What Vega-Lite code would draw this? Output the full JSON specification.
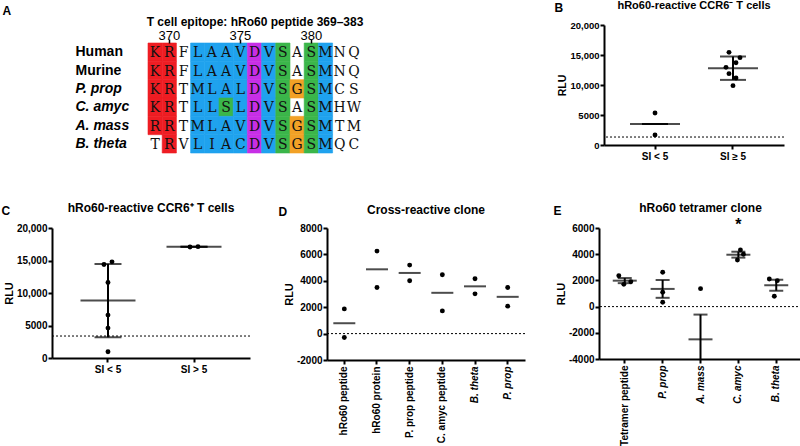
{
  "$schema": "https://vega.github.io/schema/vega-lite/v6.json",
  "padding": {"left": 1, "top": 0, "right": 0, "bottom": 0},
  "background": "white",
  "config": {
    "view": {"stroke": null},
    "font": "Liberation Sans",
    "axis": {"grid": false, "domainColor": "#000", "domainWidth": 2, "tickColor": "#000", "tickWidth": 2, "tickSize": 4, "labelColor": "#000", "labelFont": "Liberation Sans", "labelFontWeight": "bold", "labelFontSize": 10, "labelPadding": 1, "titleColor": "#000", "titleFont": "Liberation Sans", "titleFontWeight": "bold", "titleFontSize": 11, "titlePadding": 2},
    "title": {"font": "Liberation Sans", "fontWeight": "bold", "color": "#000", "frame": "group"},
    "circle": {"color": "#000", "opacity": 1, "size": 24},
    "tick": {"color": "#000", "thickness": 2},
    "rule": {"color": "#000"}
  },
  "datasets": {
    "align": [
      {"s":"Human","p":369,"a":"K","c":"r"},{"s":"Human","p":370,"a":"R","c":"r"},{"s":"Human","p":371,"a":"F","c":"n"},{"s":"Human","p":372,"a":"L","c":"b"},{"s":"Human","p":373,"a":"A","c":"b"},{"s":"Human","p":374,"a":"A","c":"b"},{"s":"Human","p":375,"a":"V","c":"b"},{"s":"Human","p":376,"a":"D","c":"m"},{"s":"Human","p":377,"a":"V","c":"b"},{"s":"Human","p":378,"a":"S","c":"g"},{"s":"Human","p":379,"a":"A","c":"n"},{"s":"Human","p":380,"a":"S","c":"g"},{"s":"Human","p":381,"a":"M","c":"b"},{"s":"Human","p":382,"a":"N","c":"n"},{"s":"Human","p":383,"a":"Q","c":"n"},
      {"s":"Murine","p":369,"a":"K","c":"r"},{"s":"Murine","p":370,"a":"R","c":"r"},{"s":"Murine","p":371,"a":"F","c":"n"},{"s":"Murine","p":372,"a":"L","c":"b"},{"s":"Murine","p":373,"a":"A","c":"b"},{"s":"Murine","p":374,"a":"A","c":"b"},{"s":"Murine","p":375,"a":"V","c":"b"},{"s":"Murine","p":376,"a":"D","c":"m"},{"s":"Murine","p":377,"a":"V","c":"b"},{"s":"Murine","p":378,"a":"S","c":"g"},{"s":"Murine","p":379,"a":"A","c":"n"},{"s":"Murine","p":380,"a":"S","c":"g"},{"s":"Murine","p":381,"a":"M","c":"b"},{"s":"Murine","p":382,"a":"N","c":"n"},{"s":"Murine","p":383,"a":"Q","c":"n"},
      {"s":"P. prop","p":369,"a":"K","c":"r"},{"s":"P. prop","p":370,"a":"R","c":"r"},{"s":"P. prop","p":371,"a":"T","c":"n"},{"s":"P. prop","p":372,"a":"M","c":"b"},{"s":"P. prop","p":373,"a":"L","c":"b"},{"s":"P. prop","p":374,"a":"A","c":"b"},{"s":"P. prop","p":375,"a":"L","c":"b"},{"s":"P. prop","p":376,"a":"D","c":"m"},{"s":"P. prop","p":377,"a":"V","c":"b"},{"s":"P. prop","p":378,"a":"S","c":"g"},{"s":"P. prop","p":379,"a":"G","c":"o"},{"s":"P. prop","p":380,"a":"S","c":"g"},{"s":"P. prop","p":381,"a":"M","c":"b"},{"s":"P. prop","p":382,"a":"C","c":"n"},{"s":"P. prop","p":383,"a":"S","c":"n"},
      {"s":"C. amyc","p":369,"a":"K","c":"r"},{"s":"C. amyc","p":370,"a":"R","c":"r"},{"s":"C. amyc","p":371,"a":"T","c":"n"},{"s":"C. amyc","p":372,"a":"L","c":"b"},{"s":"C. amyc","p":373,"a":"L","c":"b"},{"s":"C. amyc","p":374,"a":"S","c":"g"},{"s":"C. amyc","p":375,"a":"L","c":"b"},{"s":"C. amyc","p":376,"a":"D","c":"m"},{"s":"C. amyc","p":377,"a":"V","c":"b"},{"s":"C. amyc","p":378,"a":"S","c":"g"},{"s":"C. amyc","p":379,"a":"A","c":"n"},{"s":"C. amyc","p":380,"a":"S","c":"g"},{"s":"C. amyc","p":381,"a":"M","c":"b"},{"s":"C. amyc","p":382,"a":"H","c":"n"},{"s":"C. amyc","p":383,"a":"W","c":"n"},
      {"s":"A. mass","p":369,"a":"R","c":"r"},{"s":"A. mass","p":370,"a":"R","c":"r"},{"s":"A. mass","p":371,"a":"T","c":"n"},{"s":"A. mass","p":372,"a":"M","c":"b"},{"s":"A. mass","p":373,"a":"L","c":"b"},{"s":"A. mass","p":374,"a":"A","c":"b"},{"s":"A. mass","p":375,"a":"V","c":"b"},{"s":"A. mass","p":376,"a":"D","c":"m"},{"s":"A. mass","p":377,"a":"V","c":"b"},{"s":"A. mass","p":378,"a":"S","c":"g"},{"s":"A. mass","p":379,"a":"G","c":"o"},{"s":"A. mass","p":380,"a":"S","c":"g"},{"s":"A. mass","p":381,"a":"M","c":"b"},{"s":"A. mass","p":382,"a":"T","c":"n"},{"s":"A. mass","p":383,"a":"M","c":"n"},
      {"s":"B. theta","p":369,"a":"T","c":"n"},{"s":"B. theta","p":370,"a":"R","c":"r"},{"s":"B. theta","p":371,"a":"V","c":"n"},{"s":"B. theta","p":372,"a":"L","c":"b"},{"s":"B. theta","p":373,"a":"I","c":"b"},{"s":"B. theta","p":374,"a":"A","c":"b"},{"s":"B. theta","p":375,"a":"C","c":"b"},{"s":"B. theta","p":376,"a":"D","c":"m"},{"s":"B. theta","p":377,"a":"V","c":"b"},{"s":"B. theta","p":378,"a":"S","c":"g"},{"s":"B. theta","p":379,"a":"G","c":"o"},{"s":"B. theta","p":380,"a":"S","c":"g"},{"s":"B. theta","p":381,"a":"M","c":"b"},{"s":"B. theta","p":382,"a":"Q","c":"n"},{"s":"B. theta","p":383,"a":"C","c":"n"}
    ],
    "pts": [
      {"panel":"B","g":"SI < 5","rlu":5330,"j":0},{"panel":"B","g":"SI < 5","rlu":1670,"j":0},
      {"panel":"B","g":"SI ≥ 5","rlu":15440,"j":-4},{"panel":"B","g":"SI ≥ 5","rlu":14560,"j":7},{"panel":"B","g":"SI ≥ 5","rlu":13720,"j":3},{"panel":"B","g":"SI ≥ 5","rlu":12940,"j":-7},{"panel":"B","g":"SI ≥ 5","rlu":11890,"j":-4},{"panel":"B","g":"SI ≥ 5","rlu":11170,"j":3},{"panel":"B","g":"SI ≥ 5","rlu":9890,"j":0},
      {"panel":"C","g":"SI < 5","rlu":14380,"j":-4},{"panel":"C","g":"SI < 5","rlu":14790,"j":4},{"panel":"C","g":"SI < 5","rlu":11610,"j":0},{"panel":"C","g":"SI < 5","rlu":6600,"j":0},{"panel":"C","g":"SI < 5","rlu":4600,"j":0},{"panel":"C","g":"SI < 5","rlu":970,"j":0},
      {"panel":"C","g":"SI > 5","rlu":17080,"j":-4},{"panel":"C","g":"SI > 5","rlu":17130,"j":4},
      {"panel":"D","g":"hRo60 peptide","rlu":1870,"j":0},{"panel":"D","g":"hRo60 peptide","rlu":-300,"j":0},
      {"panel":"D","g":"hRo60 protein","rlu":6250,"j":0},{"panel":"D","g":"hRo60 protein","rlu":3490,"j":0},
      {"panel":"D","g":"P. prop peptide","rlu":5190,"j":0},{"panel":"D","g":"P. prop peptide","rlu":4000,"j":0},
      {"panel":"D","g":"C. amyc peptide","rlu":4460,"j":0},{"panel":"D","g":"C. amyc peptide","rlu":1720,"j":0},
      {"panel":"D","g":"B. theta","rlu":4150,"j":0},{"panel":"D","g":"B. theta","rlu":3010,"j":0},
      {"panel":"D","g":"P. prop","rlu":3490,"j":0},{"panel":"D","g":"P. prop","rlu":2080,"j":0},
      {"panel":"E","g":"Tetramer peptide","rlu":2350,"j":-6},{"panel":"E","g":"Tetramer peptide","rlu":1700,"j":-1},{"panel":"E","g":"Tetramer peptide","rlu":1900,"j":6},
      {"panel":"E","g":"P. prop","rlu":2620,"j":0},{"panel":"E","g":"P. prop","rlu":1090,"j":0},{"panel":"E","g":"P. prop","rlu":330,"j":0},
      {"panel":"E","g":"A. mass","rlu":1370,"j":0},
      {"panel":"E","g":"C. amyc","rlu":3560,"j":-1},{"panel":"E","g":"C. amyc","rlu":4330,"j":2},{"panel":"E","g":"C. amyc","rlu":4000,"j":5},
      {"panel":"E","g":"B. theta","rlu":2110,"j":-7},{"panel":"E","g":"B. theta","rlu":1980,"j":1},{"panel":"E","g":"B. theta","rlu":790,"j":-2}
    ],
    "sum": [
      {"panel":"B","g":"SI < 5","mean":3500,"lo":3500,"hi":3500},
      {"panel":"B","g":"SI ≥ 5","mean":12800,"lo":10850,"hi":14750},
      {"panel":"C","g":"SI < 5","mean":8830,"lo":3190,"hi":14460},
      {"panel":"C","g":"SI > 5","mean":17110,"lo":17110,"hi":17110},
      {"panel":"D","g":"hRo60 peptide","mean":785},
      {"panel":"D","g":"hRo60 protein","mean":4870},
      {"panel":"D","g":"P. prop peptide","mean":4595},
      {"panel":"D","g":"C. amyc peptide","mean":3090},
      {"panel":"D","g":"B. theta","mean":3580},
      {"panel":"D","g":"P. prop","mean":2785},
      {"panel":"E","g":"Tetramer peptide","mean":1980,"lo":1790,"hi":2180},
      {"panel":"E","g":"P. prop","mean":1350,"lo":670,"hi":2030},
      {"panel":"E","g":"A. mass","mean":-2500,"lo":-4000,"hi":-610},
      {"panel":"E","g":"C. amyc","mean":3960,"lo":3740,"hi":4190},
      {"panel":"E","g":"B. theta","mean":1630,"lo":1210,"hi":2050}
    ],
    "thr": [
      {"panel":"B","rlu":1330},{"panel":"C","rlu":3380},{"panel":"D","rlu":0},{"panel":"E","rlu":0}
    ],
    "stars": [
      {"panel":"E","g":"C. amyc","rlu":5880,"lab":"*"}
    ]
  },
  "spacing": 41,
  "resolve": {"scale": {"xOffset": "independent"}},
  "vconcat": [
    {
      "spacing": 191,
      "resolve": {"scale": {"xOffset": "independent"}},
      "hconcat": [
        {
          "width": 309, "height": 128,
          "data": {"name": "align"},
          "encoding": {
            "x": {"field": "p", "type": "ordinal", "scale": {"paddingInner": 0, "paddingOuter": 0, "range": [96, 309]},
              "axis": {"orient": "top", "offset": -18, "values": [370, 375, 380], "domain": false, "tickSize": 4, "tickWidth": 1.5, "labelFontWeight": "normal", "labelFontSize": 13, "labelPadding": -3, "labelAngle": 0, "title": "T cell epitope: hRo60 peptide 369–383", "titleFontSize": 12, "titlePadding": 1}},
            "y": {"field": "s", "type": "nominal", "sort": ["Human", "Murine", "P. prop", "C. amyc", "A. mass", "B. theta"], "scale": {"paddingInner": 0, "paddingOuter": 0, "range": [18, 128]},
              "axis": {"domain": false, "ticks": false, "tickSize": 0, "labelAlign": "left", "labelPadding": -23, "labelFontSize": 14, "labelFontStyle": {"condition": {"test": "datum.value === 'Human' || datum.value === 'Murine'", "value": "normal"}, "value": "italic"},
                "title": "A", "titleX": -50, "titleY": -11, "titleAngle": 0, "titleAlign": "left", "titleBaseline": "alphabetic", "titleFontSize": 12}}
          },
          "layer": [
            {
              "transform": [{"filter": "datum.c !== 'n'"}],
              "mark": {"type": "rect", "strokeWidth": 0.6},
              "encoding": {
                "color": {"field": "c", "type": "nominal", "scale": {"domain": ["r", "b", "m", "g", "o"], "range": ["#ee1d23", "#1fa2ee", "#c72fe6", "#3bb64a", "#f2a126"]}, "legend": null},
                "stroke": {"field": "c", "type": "nominal", "scale": {"domain": ["r", "b", "m", "g", "o"], "range": ["#ee1d23", "#1fa2ee", "#c72fe6", "#3bb64a", "#f2a126"]}, "legend": null}
              }
            },
            {
              "mark": {"type": "text", "font": "DejaVu Serif", "fontSize": 14, "color": "#111", "baseline": "middle", "dy": 1},
              "encoding": {"text": {"field": "a"}}
            }
          ]
        },
        {
          "width": 180, "height": 120,
          "title": {"text": "hRo60-reactive CCR6⁻ T cells", "fontSize": 11, "offset": -10},
          "layer": [
            {
              "data": {"name": "thr"}, "transform": [{"filter": "datum.panel === 'B'"}],
              "mark": {"type": "rule", "strokeDash": [2, 2], "strokeWidth": 1},
              "encoding": {"y": {"field": "rlu", "type": "quantitative", "scale": {"domain": [0, 20000], "nice": false}, "title": "RLU", "axis": {"values": [0, 5000, 10000, 15000, 20000], "labelExpr": "datum.value >= 10000 ? format(datum.value, ',') : '' + datum.value", "labelFontSize": 9.5, "titleFontSize": 10.5}}}
            },
            {
              "data": {"name": "pts"}, "transform": [{"filter": "datum.panel === 'B'"}],
              "mark": "circle",
              "encoding": {
                "x": {"field": "g", "type": "nominal", "sort": ["SI < 5", "SI ≥ 5"], "scale": {"type": "band", "paddingInner": 0, "paddingOuter": 0.154}, "axis": {"title": "B", "titleX": -50, "titleY": -134, "titleAngle": 0, "titleAlign": "left", "titleBaseline": "alphabetic", "titleFontSize": 12, "labelAngle": 0, "labelPadding": 2}},
                "xOffset": {"field": "j", "type": "quantitative", "scale": {"domain": [-39, 39], "range": [0, 78], "nice": false}},
                "y": {"field": "rlu", "type": "quantitative", "scale": {"domain": [0, 20000], "nice": false}, "title": "RLU", "axis": {"values": [0, 5000, 10000, 15000, 20000], "labelExpr": "datum.value >= 10000 ? format(datum.value, ',') : '' + datum.value", "labelFontSize": 9.5, "titleFontSize": 10.5}}
              }
            },
            {
              "data": {"name": "sum"}, "transform": [{"filter": "datum.panel === 'B'"}],
              "mark": {"type": "tick", "size": 50},
              "encoding": {
                "x": {"field": "g", "type": "nominal", "sort": ["SI < 5", "SI ≥ 5"], "scale": {"type": "band", "paddingInner": 0, "paddingOuter": 0.154}, "axis": {"title": "B", "titleX": -50, "titleY": -134, "titleAngle": 0, "titleAlign": "left", "titleBaseline": "alphabetic", "titleFontSize": 12, "labelAngle": 0, "labelPadding": 2}},
                "y": {"field": "mean", "type": "quantitative", "scale": {"domain": [0, 20000], "nice": false}, "title": "RLU", "axis": {"values": [0, 5000, 10000, 15000, 20000], "labelExpr": "datum.value >= 10000 ? format(datum.value, ',') : '' + datum.value", "labelFontSize": 9.5, "titleFontSize": 10.5}}
              }
            },
            {
              "data": {"name": "sum"}, "transform": [{"filter": "datum.panel === 'B'"}],
              "mark": {"type": "tick", "size": 26},
              "encoding": {
                "x": {"field": "g", "type": "nominal", "sort": ["SI < 5", "SI ≥ 5"], "scale": {"type": "band", "paddingInner": 0, "paddingOuter": 0.154}, "axis": {"title": "B", "titleX": -50, "titleY": -134, "titleAngle": 0, "titleAlign": "left", "titleBaseline": "alphabetic", "titleFontSize": 12, "labelAngle": 0, "labelPadding": 2}},
                "y": {"field": "lo", "type": "quantitative", "scale": {"domain": [0, 20000], "nice": false}, "title": "RLU", "axis": {"values": [0, 5000, 10000, 15000, 20000], "labelExpr": "datum.value >= 10000 ? format(datum.value, ',') : '' + datum.value", "labelFontSize": 9.5, "titleFontSize": 10.5}}
              }
            },
            {
              "data": {"name": "sum"}, "transform": [{"filter": "datum.panel === 'B'"}],
              "mark": {"type": "tick", "size": 26},
              "encoding": {
                "x": {"field": "g", "type": "nominal", "sort": ["SI < 5", "SI ≥ 5"], "scale": {"type": "band", "paddingInner": 0, "paddingOuter": 0.154}, "axis": {"title": "B", "titleX": -50, "titleY": -134, "titleAngle": 0, "titleAlign": "left", "titleBaseline": "alphabetic", "titleFontSize": 12, "labelAngle": 0, "labelPadding": 2}},
                "y": {"field": "hi", "type": "quantitative", "scale": {"domain": [0, 20000], "nice": false}, "title": "RLU", "axis": {"values": [0, 5000, 10000, 15000, 20000], "labelExpr": "datum.value >= 10000 ? format(datum.value, ',') : '' + datum.value", "labelFontSize": 9.5, "titleFontSize": 10.5}}
              }
            },
            {
              "data": {"name": "sum"}, "transform": [{"filter": "datum.panel === 'B'"}],
              "mark": {"type": "rule", "strokeWidth": 2},
              "encoding": {
                "x": {"field": "g", "type": "nominal", "sort": ["SI < 5", "SI ≥ 5"], "scale": {"type": "band", "paddingInner": 0, "paddingOuter": 0.154}, "axis": {"title": "B", "titleX": -50, "titleY": -134, "titleAngle": 0, "titleAlign": "left", "titleBaseline": "alphabetic", "titleFontSize": 12, "labelAngle": 0, "labelPadding": 2}},
                "y": {"field": "lo", "type": "quantitative", "scale": {"domain": [0, 20000], "nice": false}, "title": "RLU", "axis": {"values": [0, 5000, 10000, 15000, 20000], "labelExpr": "datum.value >= 10000 ? format(datum.value, ',') : '' + datum.value", "labelFontSize": 9.5, "titleFontSize": 10.5}},
                "y2": {"field": "hi"}
              }
            }
          ]
        }
      ]
    },
    {
      "spacing": 27,
      "resolve": {"scale": {"xOffset": "independent"}},
      "hconcat": [
        {
          "width": 198, "height": 130,
          "title": {"text": "hRo60-reactive CCR6⁺ T cells", "fontSize": 12, "offset": -11},
          "layer": [
            {
              "data": {"name": "thr"}, "transform": [{"filter": "datum.panel === 'C'"}],
              "mark": {"type": "rule", "strokeDash": [2, 2], "strokeWidth": 1},
              "encoding": {"y": {"field": "rlu", "type": "quantitative", "scale": {"domain": [0, 20000], "nice": false}, "title": "RLU", "axis": {"values": [0, 5000, 10000, 15000, 20000], "labelExpr": "datum.value >= 10000 ? format(datum.value, ',') : '' + datum.value"}}}
            },
            {
              "data": {"name": "pts"}, "transform": [{"filter": "datum.panel === 'C'"}],
              "mark": "circle",
              "encoding": {
                "x": {"field": "g", "type": "nominal", "sort": ["SI < 5", "SI > 5"], "scale": {"type": "band", "paddingInner": 0, "paddingOuter": 0.151}, "axis": {"title": "C", "titleX": -51, "titleY": -144, "titleAngle": 0, "titleAlign": "left", "titleBaseline": "alphabetic", "titleFontSize": 12, "labelAngle": 0, "labelPadding": 2}},
                "xOffset": {"field": "j", "type": "quantitative", "scale": {"domain": [-43, 43], "range": [0, 86], "nice": false}},
                "y": {"field": "rlu", "type": "quantitative", "scale": {"domain": [0, 20000], "nice": false}, "title": "RLU", "axis": {"values": [0, 5000, 10000, 15000, 20000], "labelExpr": "datum.value >= 10000 ? format(datum.value, ',') : '' + datum.value"}}
              }
            },
            {
              "data": {"name": "sum"}, "transform": [{"filter": "datum.panel === 'C'"}],
              "mark": {"type": "tick", "size": 55},
              "encoding": {
                "x": {"field": "g", "type": "nominal", "sort": ["SI < 5", "SI > 5"], "scale": {"type": "band", "paddingInner": 0, "paddingOuter": 0.151}, "axis": {"title": "C", "titleX": -51, "titleY": -144, "titleAngle": 0, "titleAlign": "left", "titleBaseline": "alphabetic", "titleFontSize": 12, "labelAngle": 0, "labelPadding": 2}},
                "y": {"field": "mean", "type": "quantitative", "scale": {"domain": [0, 20000], "nice": false}, "title": "RLU", "axis": {"values": [0, 5000, 10000, 15000, 20000], "labelExpr": "datum.value >= 10000 ? format(datum.value, ',') : '' + datum.value"}}
              }
            },
            {
              "data": {"name": "sum"}, "transform": [{"filter": "datum.panel === 'C'"}],
              "mark": {"type": "tick", "size": 27},
              "encoding": {
                "x": {"field": "g", "type": "nominal", "sort": ["SI < 5", "SI > 5"], "scale": {"type": "band", "paddingInner": 0, "paddingOuter": 0.151}, "axis": {"title": "C", "titleX": -51, "titleY": -144, "titleAngle": 0, "titleAlign": "left", "titleBaseline": "alphabetic", "titleFontSize": 12, "labelAngle": 0, "labelPadding": 2}},
                "y": {"field": "lo", "type": "quantitative", "scale": {"domain": [0, 20000], "nice": false}, "title": "RLU", "axis": {"values": [0, 5000, 10000, 15000, 20000], "labelExpr": "datum.value >= 10000 ? format(datum.value, ',') : '' + datum.value"}}
              }
            },
            {
              "data": {"name": "sum"}, "transform": [{"filter": "datum.panel === 'C'"}],
              "mark": {"type": "tick", "size": 27},
              "encoding": {
                "x": {"field": "g", "type": "nominal", "sort": ["SI < 5", "SI > 5"], "scale": {"type": "band", "paddingInner": 0, "paddingOuter": 0.151}, "axis": {"title": "C", "titleX": -51, "titleY": -144, "titleAngle": 0, "titleAlign": "left", "titleBaseline": "alphabetic", "titleFontSize": 12, "labelAngle": 0, "labelPadding": 2}},
                "y": {"field": "hi", "type": "quantitative", "scale": {"domain": [0, 20000], "nice": false}, "title": "RLU", "axis": {"values": [0, 5000, 10000, 15000, 20000], "labelExpr": "datum.value >= 10000 ? format(datum.value, ',') : '' + datum.value"}}
              }
            },
            {
              "data": {"name": "sum"}, "transform": [{"filter": "datum.panel === 'C'"}],
              "mark": {"type": "rule", "strokeWidth": 2},
              "encoding": {
                "x": {"field": "g", "type": "nominal", "sort": ["SI < 5", "SI > 5"], "scale": {"type": "band", "paddingInner": 0, "paddingOuter": 0.151}, "axis": {"title": "C", "titleX": -51, "titleY": -144, "titleAngle": 0, "titleAlign": "left", "titleBaseline": "alphabetic", "titleFontSize": 12, "labelAngle": 0, "labelPadding": 2}},
                "y": {"field": "lo", "type": "quantitative", "scale": {"domain": [0, 20000], "nice": false}, "title": "RLU", "axis": {"values": [0, 5000, 10000, 15000, 20000], "labelExpr": "datum.value >= 10000 ? format(datum.value, ',') : '' + datum.value"}},
                "y2": {"field": "hi"}
              }
            }
          ]
        },
        {
          "width": 198, "height": 132,
          "title": {"text": "Cross-reactive clone", "fontSize": 12, "offset": -12},
          "layer": [
            {
              "data": {"name": "thr"}, "transform": [{"filter": "datum.panel === 'D'"}],
              "mark": {"type": "rule", "strokeDash": [2, 2], "strokeWidth": 1},
              "encoding": {"y": {"field": "rlu", "type": "quantitative", "scale": {"domain": [-2000, 8000], "nice": false}, "title": "RLU", "axis": {"values": [-2000, 0, 2000, 4000, 6000, 8000], "labelExpr": "'' + datum.value"}}}
            },
            {
              "data": {"name": "pts"}, "transform": [{"filter": "datum.panel === 'D'"}],
              "mark": "circle",
              "encoding": {
                "x": {"field": "g", "type": "nominal", "sort": ["hRo60 peptide", "hRo60 protein", "P. prop peptide", "C. amyc peptide", "B. theta", "P. prop"], "scale": {"type": "band", "paddingInner": 0, "paddingOuter": 0.03}, "axis": {"title": "D", "titleX": -49, "titleY": -145, "titleAngle": 0, "titleAlign": "left", "titleBaseline": "alphabetic", "titleFontSize": 12, "labelAngle": -90, "labelAlign": "right", "labelBaseline": "middle", "labelPadding": 2, "labelFontStyle": {"condition": {"test": "indexof(['P. prop','A. mass','C. amyc','B. theta'], datum.value) >= 0", "value": "italic"}, "value": "normal"}}},
                "y": {"field": "rlu", "type": "quantitative", "scale": {"domain": [-2000, 8000], "nice": false}, "title": "RLU", "axis": {"values": [-2000, 0, 2000, 4000, 6000, 8000], "labelExpr": "'' + datum.value"}}
              }
            },
            {
              "data": {"name": "sum"}, "transform": [{"filter": "datum.panel === 'D'"}],
              "mark": {"type": "tick", "size": 22},
              "encoding": {
                "x": {"field": "g", "type": "nominal", "sort": ["hRo60 peptide", "hRo60 protein", "P. prop peptide", "C. amyc peptide", "B. theta", "P. prop"], "scale": {"type": "band", "paddingInner": 0, "paddingOuter": 0.03}, "axis": {"title": "D", "titleX": -49, "titleY": -145, "titleAngle": 0, "titleAlign": "left", "titleBaseline": "alphabetic", "titleFontSize": 12, "labelAngle": -90, "labelAlign": "right", "labelBaseline": "middle", "labelPadding": 2, "labelFontStyle": {"condition": {"test": "indexof(['P. prop','A. mass','C. amyc','B. theta'], datum.value) >= 0", "value": "italic"}, "value": "normal"}}},
                "y": {"field": "mean", "type": "quantitative", "scale": {"domain": [-2000, 8000], "nice": false}, "title": "RLU", "axis": {"values": [-2000, 0, 2000, 4000, 6000, 8000], "labelExpr": "'' + datum.value"}}
              }
            }
          ]
        },
        {
          "width": 203, "height": 131,
          "title": {"text": "hRo60 tetramer clone", "fontSize": 12, "offset": -11},
          "layer": [
            {
              "data": {"name": "thr"}, "transform": [{"filter": "datum.panel === 'E'"}],
              "mark": {"type": "rule", "strokeDash": [2, 2], "strokeWidth": 1},
              "encoding": {"y": {"field": "rlu", "type": "quantitative", "scale": {"domain": [-4000, 6000], "nice": false}, "title": "RLU", "axis": {"values": [-4000, -2000, 0, 2000, 4000, 6000], "labelExpr": "'' + datum.value"}}}
            },
            {
              "data": {"name": "pts"}, "transform": [{"filter": "datum.panel === 'E'"}],
              "mark": "circle",
              "encoding": {
                "x": {"field": "g", "type": "nominal", "sort": ["Tetramer peptide", "P. prop", "A. mass", "C. amyc", "B. theta"], "scale": {"type": "band", "paddingInner": 0, "paddingOuter": 0.18}, "axis": {"title": "E", "titleX": -46, "titleY": -145, "titleAngle": 0, "titleAlign": "left", "titleBaseline": "alphabetic", "titleFontSize": 12, "labelAngle": -90, "labelAlign": "right", "labelBaseline": "middle", "labelPadding": 2, "labelFontStyle": {"condition": {"test": "indexof(['P. prop','A. mass','C. amyc','B. theta'], datum.value) >= 0", "value": "italic"}, "value": "normal"}}},
                "xOffset": {"field": "j", "type": "quantitative", "scale": {"domain": [-19, 19], "range": [0, 38], "nice": false}},
                "y": {"field": "rlu", "type": "quantitative", "scale": {"domain": [-4000, 6000], "nice": false}, "title": "RLU", "axis": {"values": [-4000, -2000, 0, 2000, 4000, 6000], "labelExpr": "'' + datum.value"}}
              }
            },
            {
              "data": {"name": "sum"}, "transform": [{"filter": "datum.panel === 'E'"}],
              "mark": {"type": "tick", "size": 24},
              "encoding": {
                "x": {"field": "g", "type": "nominal", "sort": ["Tetramer peptide", "P. prop", "A. mass", "C. amyc", "B. theta"], "scale": {"type": "band", "paddingInner": 0, "paddingOuter": 0.18}, "axis": {"title": "E", "titleX": -46, "titleY": -145, "titleAngle": 0, "titleAlign": "left", "titleBaseline": "alphabetic", "titleFontSize": 12, "labelAngle": -90, "labelAlign": "right", "labelBaseline": "middle", "labelPadding": 2, "labelFontStyle": {"condition": {"test": "indexof(['P. prop','A. mass','C. amyc','B. theta'], datum.value) >= 0", "value": "italic"}, "value": "normal"}}},
                "y": {"field": "mean", "type": "quantitative", "scale": {"domain": [-4000, 6000], "nice": false}, "title": "RLU", "axis": {"values": [-4000, -2000, 0, 2000, 4000, 6000], "labelExpr": "'' + datum.value"}}
              }
            },
            {
              "data": {"name": "sum"}, "transform": [{"filter": "datum.panel === 'E'"}],
              "mark": {"type": "tick", "size": 14},
              "encoding": {
                "x": {"field": "g", "type": "nominal", "sort": ["Tetramer peptide", "P. prop", "A. mass", "C. amyc", "B. theta"], "scale": {"type": "band", "paddingInner": 0, "paddingOuter": 0.18}, "axis": {"title": "E", "titleX": -46, "titleY": -145, "titleAngle": 0, "titleAlign": "left", "titleBaseline": "alphabetic", "titleFontSize": 12, "labelAngle": -90, "labelAlign": "right", "labelBaseline": "middle", "labelPadding": 2, "labelFontStyle": {"condition": {"test": "indexof(['P. prop','A. mass','C. amyc','B. theta'], datum.value) >= 0", "value": "italic"}, "value": "normal"}}},
                "y": {"field": "hi", "type": "quantitative", "scale": {"domain": [-4000, 6000], "nice": false}, "title": "RLU", "axis": {"values": [-4000, -2000, 0, 2000, 4000, 6000], "labelExpr": "'' + datum.value"}}
              }
            },
            {
              "data": {"name": "sum"}, "transform": [{"filter": "datum.panel === 'E' && datum.lo > -4000"}],
              "mark": {"type": "tick", "size": 14},
              "encoding": {
                "x": {"field": "g", "type": "nominal", "sort": ["Tetramer peptide", "P. prop", "A. mass", "C. amyc", "B. theta"], "scale": {"type": "band", "paddingInner": 0, "paddingOuter": 0.18}, "axis": {"title": "E", "titleX": -46, "titleY": -145, "titleAngle": 0, "titleAlign": "left", "titleBaseline": "alphabetic", "titleFontSize": 12, "labelAngle": -90, "labelAlign": "right", "labelBaseline": "middle", "labelPadding": 2, "labelFontStyle": {"condition": {"test": "indexof(['P. prop','A. mass','C. amyc','B. theta'], datum.value) >= 0", "value": "italic"}, "value": "normal"}}},
                "y": {"field": "lo", "type": "quantitative", "scale": {"domain": [-4000, 6000], "nice": false}, "title": "RLU", "axis": {"values": [-4000, -2000, 0, 2000, 4000, 6000], "labelExpr": "'' + datum.value"}}
              }
            },
            {
              "data": {"name": "sum"}, "transform": [{"filter": "datum.panel === 'E'"}],
              "mark": {"type": "rule", "strokeWidth": 2},
              "encoding": {
                "x": {"field": "g", "type": "nominal", "sort": ["Tetramer peptide", "P. prop", "A. mass", "C. amyc", "B. theta"], "scale": {"type": "band", "paddingInner": 0, "paddingOuter": 0.18}, "axis": {"title": "E", "titleX": -46, "titleY": -145, "titleAngle": 0, "titleAlign": "left", "titleBaseline": "alphabetic", "titleFontSize": 12, "labelAngle": -90, "labelAlign": "right", "labelBaseline": "middle", "labelPadding": 2, "labelFontStyle": {"condition": {"test": "indexof(['P. prop','A. mass','C. amyc','B. theta'], datum.value) >= 0", "value": "italic"}, "value": "normal"}}},
                "y": {"field": "lo", "type": "quantitative", "scale": {"domain": [-4000, 6000], "nice": false}, "title": "RLU", "axis": {"values": [-4000, -2000, 0, 2000, 4000, 6000], "labelExpr": "'' + datum.value"}},
                "y2": {"field": "hi"}
              }
            },
            {
              "data": {"name": "stars"}, "transform": [{"filter": "datum.panel === 'E'"}],
              "mark": {"type": "text", "fontSize": 16, "fontWeight": "bold", "baseline": "alphabetic", "dy": 0, "color": "#000"},
              "encoding": {
                "x": {"field": "g", "type": "nominal", "sort": ["Tetramer peptide", "P. prop", "A. mass", "C. amyc", "B. theta"], "scale": {"type": "band", "paddingInner": 0, "paddingOuter": 0.18}, "axis": {"title": "E", "titleX": -46, "titleY": -145, "titleAngle": 0, "titleAlign": "left", "titleBaseline": "alphabetic", "titleFontSize": 12, "labelAngle": -90, "labelAlign": "right", "labelBaseline": "middle", "labelPadding": 2, "labelFontStyle": {"condition": {"test": "indexof(['P. prop','A. mass','C. amyc','B. theta'], datum.value) >= 0", "value": "italic"}, "value": "normal"}}},
                "y": {"field": "rlu", "type": "quantitative", "scale": {"domain": [-4000, 6000], "nice": false}, "title": "RLU", "axis": {"values": [-4000, -2000, 0, 2000, 4000, 6000], "labelExpr": "'' + datum.value"}},
                "text": {"field": "lab"}
              }
            }
          ]
        }
      ]
    }
  ]
}
